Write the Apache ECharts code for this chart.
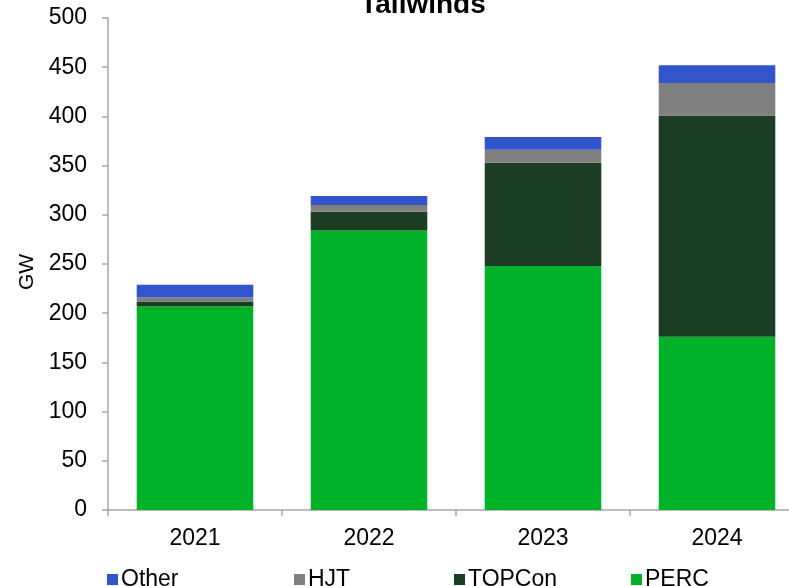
<!DOCTYPE html>
<html>
<head>
<meta charset="utf-8">
<script src="https://cdn.jsdelivr.net/npm/echarts@6/dist/echarts.min.js"></script>
<style>
  html, body { margin: 0; padding: 0; background: #ffffff; }
  #chart { width: 789px; height: 586px; }
</style>
</head>
<body>
<div id="chart"></div>
<script>
// Cell technology production capacity, GW
const years = ['2021', '2022', '2023', '2024'];
const perc = [207, 284, 248, 176];
const topcon = [5, 19, 105, 225];
const hjt = [4, 7, 13, 33];
const other = [13, 9, 13, 18];
const yTicks = [0, 50, 100, 150, 200, 250, 300, 350, 400, 450, 500];

const colors = {
  PERC: '#00b22a',
  TOPCon: '#1a3d23',
  HJT: '#808080',
  Other: '#3355cc'
};

const font = 'Liberation Sans, Arial, sans-serif';
const axisGray = '#a6a6a6';

const chart = echarts.init(document.getElementById('chart'), null, { renderer: 'canvas' });

function bar(name, data) {
  return {
    name: name,
    type: 'bar',
    stack: 'total',
    data: data,
    barCategoryGap: '33%',
    itemStyle: { color: colors[name] },
    emphasis: { disabled: true }
  };
}

// one legend block per entry so each sits at its own column
const legendSpots = [
  { name: 'Other', left: 102 },
  { name: 'HJT', left: 289 },
  { name: 'TOPCon', left: 449 },
  { name: 'PERC', left: 626 }
];

chart.setOption({
  animation: false,
  title: {
    text: 'Tailwinds',
    left: 418,
    textAlign: 'center',
    top: -14,
    textStyle: { fontFamily: font, fontSize: 28, fontWeight: 'bold', color: '#000' }
  },
  legend: legendSpots.map(s => ({
    data: [s.name],
    left: s.left,
    top: 563,
    itemWidth: 11,
    itemHeight: 11,
    itemGap: 4,
    icon: 'rect',
    selectedMode: false,
    textStyle: { fontFamily: font, fontSize: 23, color: '#000', padding: [0, 0, 0, -2] }
  })),
  // plot area runs past the right edge of the canvas
  grid: {
    left: 108, top: 18, width: 696, height: 492,
    containLabel: false,
    outerBoundsMode: 'none'
  },
  xAxis: {
    type: 'category',
    data: years,
    boundaryGap: true,
    axisLine: { lineStyle: { color: axisGray, width: 1.5 } },
    axisTick: { show: true, length: 6, lineStyle: { color: axisGray, width: 1.5 } },
    axisLabel: { margin: 17, fontFamily: font, fontSize: 23, color: '#000' }
  },
  yAxis: {
    type: 'value',
    min: yTicks[0],
    max: yTicks[yTicks.length - 1],
    interval: yTicks[1] - yTicks[0],
    name: 'GW',
    nameLocation: 'middle',
    nameGap: 70,
    nameRotate: 90,
    nameTextStyle: { fontFamily: font, fontSize: 21, color: '#000', padding: [0, 16, 0, 0] },
    splitLine: { show: false },
    axisLine: { show: true, lineStyle: { color: axisGray, width: 1.5 } },
    axisTick: { show: true, length: 6, lineStyle: { color: axisGray, width: 1.5 } },
    axisLabel: { margin: 21, fontFamily: font, fontSize: 23, color: '#000' }
  },
  series: [
    bar('PERC', perc),
    bar('TOPCon', topcon),
    bar('HJT', hjt),
    bar('Other', other)
  ]
});
</script>
</body>
</html>
